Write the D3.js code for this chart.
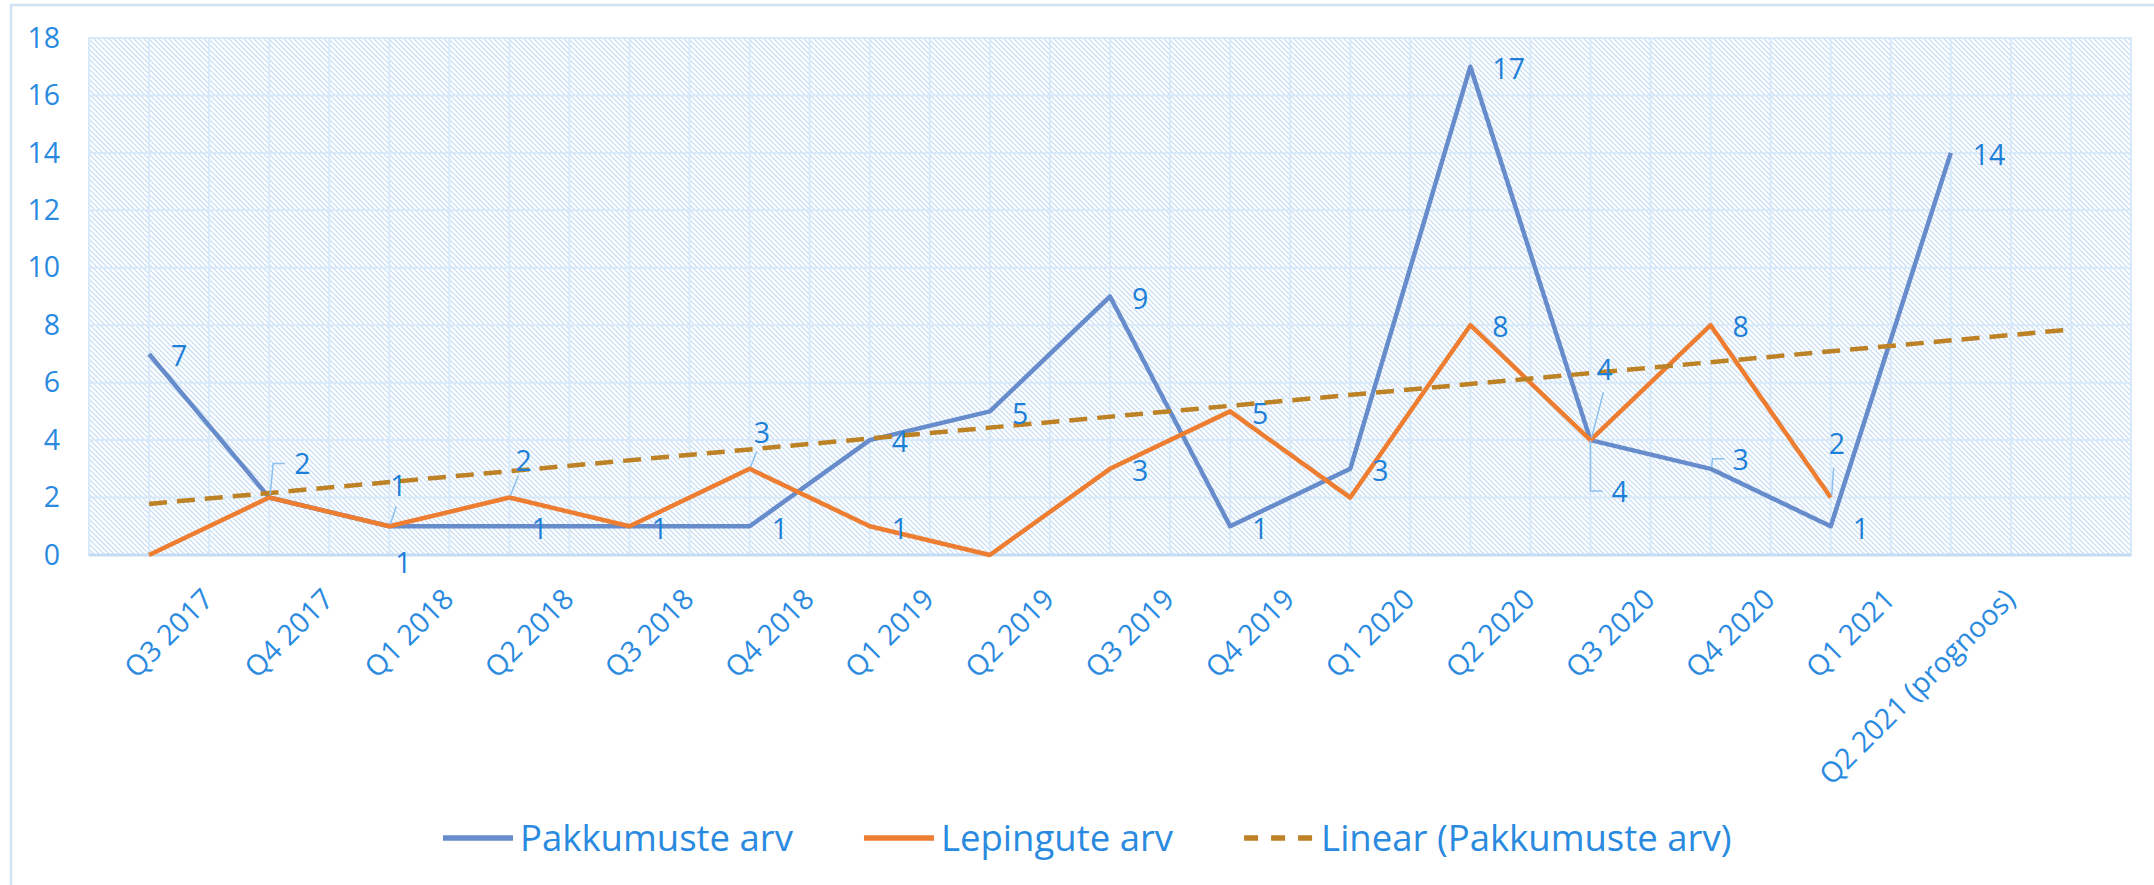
<!DOCTYPE html>
<html>
<head>
<meta charset="utf-8">
<script src="https://cdn.jsdelivr.net/npm/d3@7"></script>
<style>
  html, body { margin: 0; padding: 0; background: #fff; }
  svg text { font-family: 'Open Sans', Lato, sans-serif; }
</style>
</head>
<body>
<svg id="chart" width="2154" height="885"></svg>
<script>
// quarters on the category axis, last one is the forecast
const categories = ["Q3 2017", "Q4 2017", "Q1 2018", "Q2 2018", "Q3 2018", "Q4 2018",
  "Q1 2019", "Q2 2019", "Q3 2019", "Q4 2019", "Q1 2020", "Q2 2020", "Q3 2020",
  "Q4 2020", "Q1 2021", "Q2 2021 (prognoos)"]
const pakkumused = [7, 2, 1, 1, 1, 1, 4, 5, 9, 1, 3, 17, 4, 3, 1, 14]
const lepingud = [0, 2, 1, 2, 1, 3, 1, 0, 3, 5, 2, 8, 4, 8, 2]
const yTicks = [0, 2, 4, 6, 8, 10, 12, 14, 16, 18]
const forecastForward = 1
const legendNames = ["Pakkumuste arv", "Lepingute arv", "Linear (Pakkumuste arv)"]

// label placement (text left edge dx, text middle dy, optional leader), null = no label
const R = { dx: 22, dy: 2 }
const pakkLabelPos = [R,
  { dx: 25, dy: -34, leader: [[1, -3], [4, -34], [16, -34]] },
  { dx: 6, dy: 36 },
  R, R, R, R, R, R, R, R, R,
  { dx: 21, dy: 52, leader: [[0, 0], [0, 51], [12, 51]] },
  { dx: 22, dy: -9, leader: [[1, -2], [2, -10], [14, -10]] },
  R, R]
const lepLabelPos = [null, null,
  { dx: 1, dy: -41, leader: [[1, -2], [7, -20]] },
  { dx: 6, dy: -37, leader: [[1, -2], [9, -22]] },
  null,
  { dx: 4, dy: -36, leader: [[1, -2], [7, -17]] },
  R, null, R, R, null, R,
  { dx: 6, dy: -70, leader: [[1, -2], [13, -48]] },
  R,
  { dx: -2, dy: -54, leader: [[1, -2], [3, -30]] }]

const blue = "#678ccb", orange = "#ed7d31", gold = "#bd8225"
const textBlue = "#1d7fd8", axisBlue = "#2a8ae0"
const plotLeft = 89, plotRight = 2131, plotTop = 38, plotBottom = 555
const fontSize = 28.5

const svg = d3.select("#chart")

// hatch pattern for the plot area
const defs = svg.append("defs")
const pat = defs.append("pattern").attr("id", "hatch")
  .attr("patternUnits", "userSpaceOnUse").attr("width", 5).attr("height", 5)
pat.append("rect").attr("width", 5).attr("height", 5).attr("fill", "#fff")
pat.append("path").attr("d", "M-1,-1 L6,6 M-1,4 L1,6 M4,-1 L6,1")
  .attr("stroke", "#c2dbf4").attr("stroke-width", 1.2)

// outer chart border
svg.append("rect").attr("x", 11).attr("y", 5).attr("width", 2200).attr("height", 900)
  .attr("fill", "#fff").attr("stroke", "#cfe2f6").attr("stroke-width", 2.5)

const nSlots = categories.length + forecastForward
const x = d3.scaleBand().domain(d3.range(nSlots)).range([plotLeft, plotRight]).padding(0)
const cx = i => x(i) + x.bandwidth() / 2
const y = d3.scaleLinear().domain([0, 18]).range([plotBottom, plotTop])

svg.append("rect").attr("x", plotLeft).attr("y", plotTop)
  .attr("width", plotRight - plotLeft).attr("height", plotBottom - plotTop)
  .attr("fill", "url(#hatch)").attr("stroke", "#d6e7f8").attr("stroke-width", 2)

// gridlines
const grid = svg.append("g")
grid.selectAll(".h").data(yTicks).enter().append("line")
  .attr("x1", plotLeft).attr("x2", plotRight)
  .attr("y1", d => y(d)).attr("y2", d => y(d))
  .attr("stroke", "#d8e9fa").attr("stroke-width", 2)
grid.selectAll(".v").data(d3.range(nSlots * 2 + 1)).enter().append("line")
  .attr("x1", k => plotLeft + k * x.bandwidth() / 2).attr("x2", k => plotLeft + k * x.bandwidth() / 2)
  .attr("y1", plotTop).attr("y2", plotBottom)
  .attr("stroke", "#d8e9fa").attr("stroke-width", 2)

svg.append("line").attr("x1", plotLeft).attr("x2", plotRight)
  .attr("y1", plotBottom).attr("y2", plotBottom)
  .attr("stroke", "#c3dbf3").attr("stroke-width", 3)

// y axis
const yAxis = svg.append("g").attr("transform", `translate(${plotLeft},0)`)
  .call(d3.axisLeft(y).tickValues(yTicks).tickSize(0).tickPadding(29))
yAxis.select(".domain").remove()
yAxis.selectAll("text").attr("font-size", fontSize).attr("fill", axisBlue)
  .style("font-family", "'Open Sans'")

// x axis
const xAxis = svg.append("g").attr("transform", `translate(${x.bandwidth() / 2},${plotBottom})`)
  .call(d3.axisBottom(x).tickValues(d3.range(categories.length)).tickSize(0)
    .tickFormat(i => categories[i]))
xAxis.select(".domain").remove()
xAxis.selectAll("text")
  .attr("y", 0).attr("dy", 0).attr("x", 0)
  .attr("text-anchor", "end")
  .attr("transform", "translate(6,46) rotate(-45)")
  .attr("font-size", fontSize).attr("fill", axisBlue)
  .style("font-family", "'Open Sans'")

// lines
const line = d3.line().x((d, i) => cx(i)).y(d => y(d))
svg.append("path").datum(pakkumused).attr("d", line).attr("fill", "none")
  .attr("stroke", blue).attr("stroke-width", 4.5).attr("stroke-linejoin", "round")
svg.append("path").datum(lepingud).attr("d", line).attr("fill", "none")
  .attr("stroke", orange).attr("stroke-width", 4.5).attr("stroke-linejoin", "round")

// linear trendline for pakkumused (least squares on 1..n), forecast forward
const xs = pakkumused.map((d, i) => i + 1)
const mx = d3.mean(xs), my = d3.mean(pakkumused)
const slope = d3.sum(xs, (v, i) => (v - mx) * (pakkumused[i] - my)) / d3.sum(xs, v => (v - mx) ** 2)
const icept = my - slope * mx
const trendEnds = [0, nSlots - 1]
svg.append("line")
  .attr("x1", cx(trendEnds[0])).attr("y1", y(icept + slope * (trendEnds[0] + 1)))
  .attr("x2", cx(trendEnds[1])).attr("y2", y(icept + slope * (trendEnds[1] + 1)))
  .attr("stroke", gold).attr("stroke-width", 4.5).attr("stroke-dasharray", "18,10")

// data labels
function drawLabels(values, placement) {
  values.forEach((v, i) => {
    const p = placement[i]
    if (!p) return
    const px = cx(i), py = y(v)
    if (p.leader) {
      svg.append("polyline")
        .attr("points", p.leader.map(q => (px + q[0]) + "," + (py + q[1])).join(" "))
        .attr("fill", "none").attr("stroke", "#8cc0ef").attr("stroke-width", 1.5)
    }
    svg.append("text").attr("x", px + p.dx).attr("y", py + p.dy).attr("dy", "0.36em")
      .attr("font-size", fontSize).attr("fill", textBlue).text(v)
  })
}
drawLabels(pakkumused, pakkLabelPos)
drawLabels(lepingud, lepLabelPos)

// legend
const legendY = 838
const legend = svg.append("g")
let lx = 443
const swatches = [
  { color: blue, dash: null },
  { color: orange, dash: null },
  { color: gold, dash: "14,13" }
]
legendNames.forEach((name, i) => {
  const s = swatches[i]
  const ln = legend.append("line").attr("x1", lx).attr("x2", lx + 70)
    .attr("y1", legendY).attr("y2", legendY)
    .attr("stroke", s.color).attr("stroke-width", 5.5)
  if (s.dash) ln.attr("stroke-dasharray", s.dash)
  const t = legend.append("text").attr("x", lx + 77).attr("y", legendY).attr("dy", "0.36em")
    .attr("font-size", 36.5).attr("fill", axisBlue).text(name)
  lx += 77 + t.node().getComputedTextLength() + 71
})
</script>
</body>
</html>
